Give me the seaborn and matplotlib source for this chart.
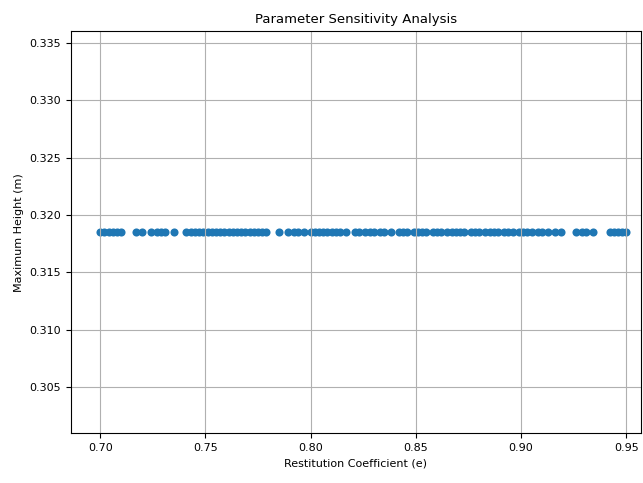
#!/usr/bin/env python3
"""
Parameter sensitivity scatter: max bounce height vs restitution coefficient
"""

import matplotlib
matplotlib.use("Agg")
import matplotlib.pyplot as plt
import seaborn as sns
import pandas as pd

# Restitution coefficients that were simulated
restitution = [
    0.700, 0.702, 0.704, 0.706, 0.708, 0.710,
    0.717, 0.720,
    0.724, 0.727, 0.729, 0.731, 0.735,
    0.741, 0.743, 0.745, 0.747, 0.749, 0.751, 0.753, 0.755, 0.757, 0.759,
    0.761, 0.763, 0.765, 0.767, 0.769, 0.771, 0.773, 0.775, 0.777, 0.779,
    0.785,
    0.789, 0.792, 0.794, 0.797,
    0.800, 0.802, 0.804, 0.806, 0.808, 0.810, 0.812, 0.814, 0.817,
    0.821, 0.823, 0.826, 0.828, 0.830, 0.833, 0.835, 0.838,
    0.842, 0.844, 0.846, 0.849, 0.851, 0.853, 0.855, 0.858, 0.860, 0.862,
    0.865, 0.867, 0.869, 0.871, 0.873, 0.876, 0.878, 0.880, 0.883, 0.885,
    0.887, 0.889, 0.892, 0.894, 0.896, 0.899, 0.901, 0.903, 0.905, 0.908,
    0.910, 0.913,
    0.916, 0.919,
    0.926, 0.929, 0.931, 0.934,
    0.942, 0.944, 0.946, 0.948, 0.950,
]

# Maximum height came out the same for every run
MAX_HEIGHT = 0.3185
max_height = [MAX_HEIGHT] * len(restitution)

df = pd.DataFrame({"e": restitution, "h": max_height})

fig, ax = plt.subplots(figsize=(6.43, 4.83), dpi=100)
sns.scatterplot(data=df, x="e", y="h", ax=ax, color="#1f77b4",
                s=34, linewidth=0, legend=False)

ax.set_title("Parameter Sensitivity Analysis", fontsize=9.5)
ax.set_xlabel("Restitution Coefficient (e)", fontsize=8)
ax.set_ylabel("Maximum Height (m)", fontsize=8)
ax.tick_params(labelsize=8)
ax.grid(True)
ax.set_xlim(0.686, 0.957)

fig.subplots_adjust(left=0.11, right=0.997, top=0.935, bottom=0.103)
fig.savefig("out.png", dpi=100)
plt.close(fig)
